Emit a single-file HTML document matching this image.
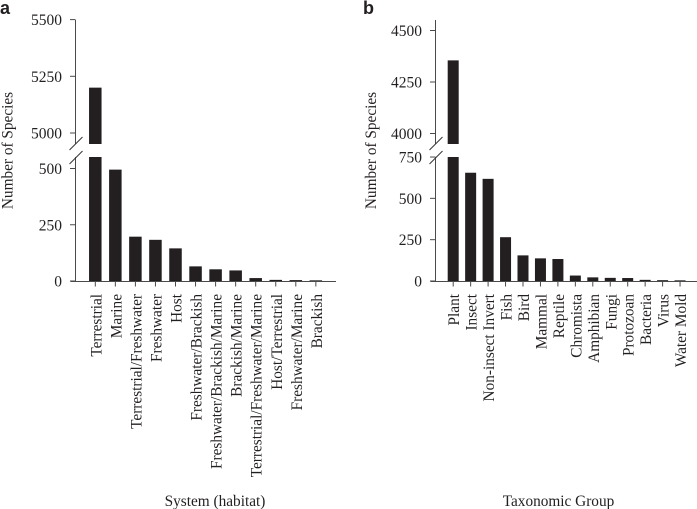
<!DOCTYPE html>
<html>
<head>
<meta charset="utf-8">
<style>
html,body{margin:0;padding:0;background:#fff;}
svg{display:block;}
text{font-family:"Liberation Serif",serif;fill:#231f20;}
</style>
</head>
<body>
<svg id="chart" width="697" height="509" viewBox="0 0 697 509" xmlns="http://www.w3.org/2000/svg"></svg>
<script>
const habitatCategories = ["Terrestrial","Marine","Terrestrial/Freshwater","Freshwater","Host","Freshwater/Brackish","Freshwater/Brackish/Marine","Brackish/Marine","Terrestrial/Freshwater/Marine","Host/Terrestrial","Freshwater/Marine","Brackish"];
const habitatValues = [5200,495,197,183,145,65,52,47,13,5,4,3];
const habitatLowerTicks = [0,250,500];
const habitatUpperTicks = [5000,5250,5500];

const taxonCategories = ["Plant","Insect","Non-insect Invert","Fish","Bird","Mammal","Reptile","Chromista","Amphibian","Fungi","Protozoan","Bacteria","Virus","Water Mold"];
const taxonValues = [4355,655,618,265,155,137,133,33,22,19,18,7,5,4];
const taxonLowerTicks = [0,250,500,750];
const taxonUpperTicks = [4000,4250,4500];

const svg = document.getElementById('chart');
const NS = 'http://www.w3.org/2000/svg';
const INK = '#231f20';
const AXIS = '#4a4a4a';

function make(tag, attrs, text) {
  const el = document.createElementNS(NS, tag);
  for (const k in attrs) el.setAttribute(k, attrs[k]);
  if (text !== undefined) el.textContent = text;
  svg.appendChild(el);
  return el;
}

function slug(s) {
  return s.toLowerCase().replace(/[^a-z0-9]+/g, '-');
}

function drawPanel(p) {
  const yLow = v => p.baseY - (v - 0) * p.lowScale;
  const yUp = v => p.upRefY - (v - p.upRef) * p.upScale;
  const xAt = i => p.firstX + i * p.step;

  // axes
  const axisUpper = make('line', {x1:p.axisX, x2:p.axisX, y1:20, y2:p.breakTop, stroke:AXIS, 'stroke-width':1});
  
  
  const axisLower = make('line', {x1:p.axisX, x2:p.axisX, y1:p.breakBottom, y2:p.baseY + 0.5, stroke:AXIS, 'stroke-width':1});
  
  
  const axisX = make('line', {x1:p.axisX - 5, x2:p.axisEnd, y1:p.baseY + 0.5, y2:p.baseY + 0.5, stroke:AXIS, 'stroke-width':1});
  
  

  // break marks
  [0, 14].forEach((dy, i) => {
    const mark = make('line', {x1:p.axisX - 6, y1:150 + dy, x2:p.axisX + 7, y2:137 + dy, stroke:'#333', 'stroke-width':1});
    
    
  });

  // y ticks
  const tick = (v, y) => {
    const line = make('line', {x1:p.axisX - 5.5, x2:p.axisX, y1:y, y2:y, stroke:AXIS, 'stroke-width':1});
    
    
    const label = make('text', {x:p.axisX - 13.5, y:y + 5.5, 'text-anchor':'end', 'font-size':15.5}, String(v));
    
    
  };
  p.lowerTicks.forEach(v => tick(v, yLow(v)));
  p.upperTicks.forEach(v => tick(v, yUp(v)));

  // bars and categories
  p.categories.forEach((c, i) => {
    const v = p.values[i];
    const x = xAt(i);
    const name = slug(c);
    if (v > p.breakValue) {
      const top = make('rect', {x:x - p.barW / 2, y:yUp(v), width:p.barW, height:p.breakTop - yUp(v), fill:INK});
      
      
      const low = make('rect', {x:x - p.barW / 2, y:p.breakBottom, width:p.barW, height:p.baseY - p.breakBottom, fill:INK});
      
      
    } else {
      const bar = make('rect', {x:x - p.barW / 2, y:yLow(v), width:p.barW, height:p.baseY - yLow(v), fill:INK});
      
      
    }
    const t = make('line', {x1:x, x2:x, y1:p.baseY, y2:p.baseY + 5.5, stroke:AXIS, 'stroke-width':1});
    
    
    const lx = x + 6;
    const lab = make('text', {x:lx, y:294, 'text-anchor':'end', 'font-size':15.3, transform:'rotate(-90 ' + lx + ' 294)'}, c);
    
    
  });

  // titles
  const yt = make('text', {x:p.yTitleX, y:150.5, 'text-anchor':'middle', 'font-size':15.3, transform:'rotate(-90 ' + p.yTitleX + ' 150.5)'}, 'Number of Species');
  
  
  const xt = make('text', {x:p.xTitleX, y:506, 'text-anchor':'middle', 'font-size':15.3}, p.xTitle);
  
  
  const letter = make('text', {x:p.letterX, y:14, 'font-size':18, 'font-weight':'bold', style:'font-family:"Liberation Sans",sans-serif'}, p.id);
  
  
}

drawPanel({
  id:'a', categories:habitatCategories, values:habitatValues,
  lowerTicks:habitatLowerTicks, upperTicks:habitatUpperTicks,
  axisX:75.5, axisEnd:336, baseY:281, lowScale:0.225,
  upRef:5000, upRefY:133, upScale:0.2268,
  breakValue:1000, breakTop:144, breakBottom:157,
  firstX:95.3, step:20.05, barW:12.5,
  yTitleX:12.5, xTitleX:215, xTitle:'System (habitat)', letterX:0
});

drawPanel({
  id:'b', categories:taxonCategories, values:taxonValues,
  lowerTicks:taxonLowerTicks, upperTicks:taxonUpperTicks,
  axisX:435.5, axisEnd:697, baseY:281, lowScale:0.1653,
  upRef:4000, upRefY:133.5, upScale:0.206,
  breakValue:1000, breakTop:144, breakBottom:157,
  firstX:453.2, step:17.45, barW:11,
  yTitleX:376, xTitleX:558.5, xTitle:'Taxonomic Group', letterX:363
});
</script>
</body>
</html>
